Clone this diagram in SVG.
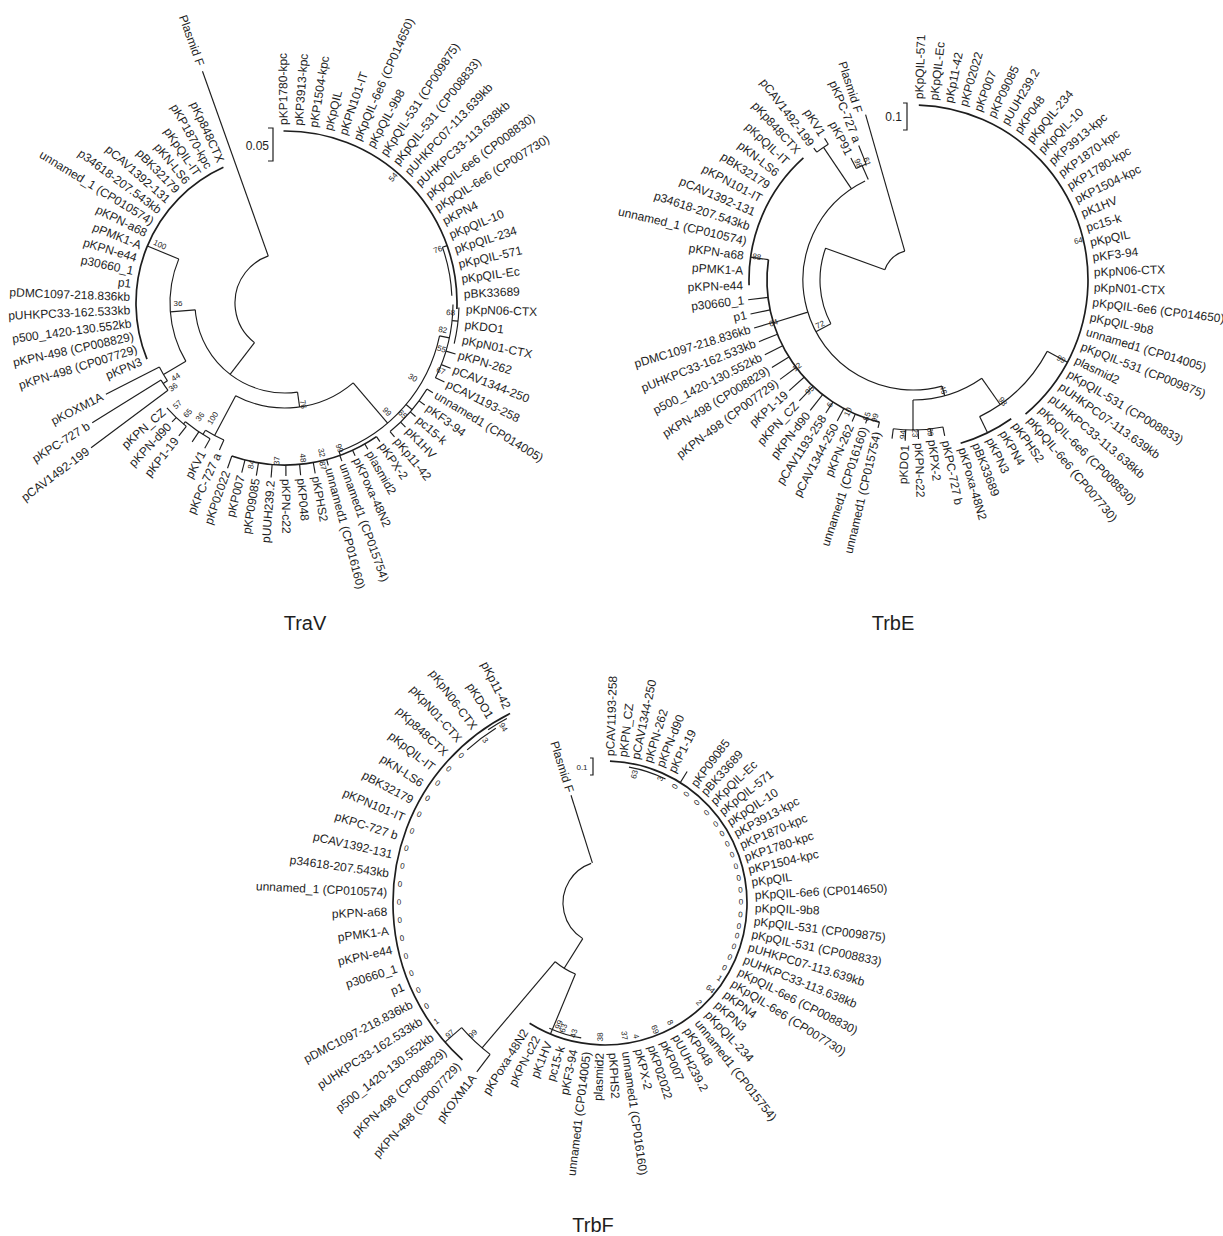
<svg xmlns="http://www.w3.org/2000/svg" width="1223" height="1236" viewBox="0 0 1223 1236">
<style>
text{font-family:"Liberation Sans",Arial,sans-serif;fill:#1e1e1e}
.l{font-size:12px;dominant-baseline:central}
.f{text-anchor:end}
.b{font-size:8px;text-anchor:middle;dominant-baseline:central}
.t{font-size:20px;text-anchor:middle}
.c line,.c circle,.c path{stroke:#1e1e1e;stroke-width:1.15;fill:none}
.c .k{stroke-width:1.7}
</style>
<rect width="1223" height="1236" fill="#fff"/>

<!-- ================= TraV ================= -->
<g id="traV" transform="translate(285,303)">
<g id="traV-edges" class="c">
<circle r="50" stroke-dasharray="107.16 3000" transform="rotate(127.6)"/>
<circle r="90" stroke-dasharray="147.03 3000" transform="rotate(82)"/>
<circle r="115" stroke-dasharray="106.38 3000" transform="rotate(149.5)"/>
<circle class="k" r="149" stroke-dasharray="227.96 3000" transform="rotate(157.87)"/>
<circle r="141" stroke-dasharray="16 3000" transform="rotate(146.5)"/>
<circle r="146" stroke-dasharray="12.41 3000" transform="rotate(143.26)"/>
<circle r="105" stroke-dasharray="125.53 3000" transform="rotate(49.5)"/>
<circle r="150" stroke-dasharray="20.84 3000" transform="rotate(114.04)"/>
<circle r="155" stroke-dasharray="30 3000" transform="rotate(118.91)"/>
<circle r="158" stroke-dasharray="26.86 3000" transform="rotate(128.65)"/>
<circle r="158" stroke-dasharray="159.94 3000" transform="rotate(12)"/>
<circle r="168" stroke-dasharray="76.2 3000" transform="rotate(0.5)"/>
<circle r="174" stroke-dasharray="36.4 3000" transform="rotate(1.5)"/>
<circle class="k" r="172" stroke-dasharray="277.68 3000" transform="rotate(-90.5)"/>
<circle r="167" stroke-dasharray="49.6 3000" transform="rotate(-19.5)"/>
<circle r="166" stroke-dasharray="56.44 3000" transform="rotate(31.25)"/>
<circle class="k" r="162" stroke-dasharray="151.46 3000" transform="rotate(55.6)"/>
<line x1="50" x2="246" transform="rotate(250.4)"/>
<line x1="50" x2="90" transform="rotate(127.6)"/>
<line x1="90" x2="115" transform="rotate(175.6)"/>
<line x1="115" x2="149" transform="rotate(202.5)"/>
<line x1="115" x2="141" transform="rotate(149.5)"/>
<line x1="141" x2="201" transform="rotate(153)"/>
<line x1="141" x2="146" transform="rotate(146.5)"/>
<line x1="146" x2="227" transform="rotate(148.13)"/>
<line x1="146" x2="242" transform="rotate(143.26)"/>
<line x1="90" x2="105" transform="rotate(82)"/>
<line x1="105" x2="150" transform="rotate(118)"/>
<line x1="150" x2="161" transform="rotate(114.04)"/>
<line x1="150" x2="155" transform="rotate(122)"/>
<line x1="155" x2="166" transform="rotate(118.91)"/>
<line x1="155" x2="167" transform="rotate(123.78)"/>
<line x1="155" x2="158" transform="rotate(130)"/>
<line x1="158" x2="170" transform="rotate(128.65)"/>
<line x1="158" x2="164" transform="rotate(133.52)"/>
<line x1="105" x2="158" transform="rotate(49.5)"/>
<line x1="158" x2="168" transform="rotate(12)"/>
<line x1="168" x2="174" transform="rotate(6)"/>
<line x1="167" x2="172" transform="rotate(-19.5)"/>
<line x1="158" x2="166" transform="rotate(40)"/>
<line x1="158" x2="162" transform="rotate(70)"/>
<line x1="168" x2="178" transform="rotate(16.64)"/>
<line x1="168" x2="178" transform="rotate(21.51)"/>
<line x1="168" x2="178" transform="rotate(26.38)"/>
<line x1="166" x2="173" transform="rotate(31.25)"/>
<line x1="166" x2="173" transform="rotate(36.12)"/>
<line x1="166" x2="173" transform="rotate(40.99)"/>
<line x1="166" x2="173" transform="rotate(45.86)"/>
<line x1="166" x2="173" transform="rotate(50.73)"/>
<line x1="162" x2="168" transform="rotate(55.6)"/>
<line x1="162" x2="168" transform="rotate(60.47)"/>
<line x1="162" x2="168" transform="rotate(65.34)"/>
<line x1="162" x2="168" transform="rotate(70.21)"/>
<line x1="162" x2="168" transform="rotate(75.08)"/>
<line x1="162" x2="173" transform="rotate(79.95)"/>
<line x1="162" x2="173" transform="rotate(84.82)"/>
<line x1="162" x2="173" transform="rotate(89.69)"/>
<line x1="162" x2="175" transform="rotate(94.56)"/>
<line x1="162" x2="175" transform="rotate(99.43)"/>
<line x1="162" x2="175" transform="rotate(104.3)"/>
<line x1="162" x2="175" transform="rotate(109.17)"/>
</g>
<g id="traV-support">
<text class="b" x="166" transform="rotate(-49.3)">54</text>
<text class="b" x="162" transform="rotate(-19.2)">76</text>
<text class="b" x="166" transform="rotate(3.4)">68</text>
<text class="b" x="160" transform="rotate(9.7)">82</text>
<text class="b" x="163" transform="rotate(16.4)">55</text>
<text class="b" x="170" transform="rotate(23.6)">67</text>
<text class="b" x="148" transform="rotate(30.4)">30</text>
<text class="b" x="162" transform="rotate(43.5)">65</text>
<text class="b" x="149" transform="rotate(46.9)">99</text>
<text class="b" x="155" transform="rotate(69.5)">99</text>
<text class="b" x="154" transform="rotate(76.3)">32</text>
<text class="b" x="167" transform="rotate(77)">87</text>
<text class="b" x="156" transform="rotate(83.5)">48</text>
<text class="b" x="-158" transform="rotate(-87.1)">37</text>
<text class="b" x="-165" transform="rotate(-78.3)">84</text>
<text class="b" x="103" transform="rotate(80)">76</text>
<text class="b" x="-136" transform="rotate(-58)">100</text>
<text class="b" x="-142" transform="rotate(-53.3)">36</text>
<text class="b" x="-147" transform="rotate(-48.6)">65</text>
<text class="b" x="-148" transform="rotate(-43.4)">57</text>
<text class="b" x="-132" transform="rotate(-34.2)">44</text>
<text class="b" x="-140" transform="rotate(-37)">36</text>
<text class="b" x="-107" transform="rotate(0)">36</text>
<text class="b" x="-138" transform="rotate(24.9)">100</text>
</g>
<g id="traV-n01"><text class="l" x="178" transform="rotate(-90.5)">pKP1780-kpc</text></g>
<g id="traV-n02"><text class="l" x="178" transform="rotate(-85.63)">pKP3913-kpc</text></g>
<g id="traV-n03"><text class="l" x="178" transform="rotate(-80.76)">pKP1504-kpc</text></g>
<g id="traV-n04"><text class="l" x="178" transform="rotate(-75.89)">pKpQIL</text></g>
<g id="traV-n05"><text class="l" x="178" transform="rotate(-71.02)">pKPN101-IT</text></g>
<g id="traV-n06"><text class="l" x="178" transform="rotate(-66.15)">pKpQIL-6e6 (CP014650)</text></g>
<g id="traV-n07"><text class="l" x="178" transform="rotate(-61.28)">pKpQIL-9b8</text></g>
<g id="traV-n08"><text class="l" x="178" transform="rotate(-56.41)">pKpQIL-531 (CP009875)</text></g>
<g id="traV-n09"><text class="l" x="178" transform="rotate(-51.54)">pKpQIL-531 (CP008833)</text></g>
<g id="traV-n10"><text class="l" x="178" transform="rotate(-46.67)">pUHKPC07-113.639kb</text></g>
<g id="traV-n11"><text class="l" x="178" transform="rotate(-41.8)">pUHKPC33-113.638kb</text></g>
<g id="traV-n12"><text class="l" x="178" transform="rotate(-36.93)">pKpQIL-6e6 (CP008830)</text></g>
<g id="traV-n13"><text class="l" x="178" transform="rotate(-32.06)">pKpQIL-6e6 (CP007730)</text></g>
<g id="traV-n14"><text class="l" x="178" transform="rotate(-27.19)">pKPN4</text></g>
<g id="traV-n15"><text class="l" x="178" transform="rotate(-22.32)">pKpQIL-10</text></g>
<g id="traV-n16"><text class="l" x="178" transform="rotate(-17.45)">pKpQIL-234</text></g>
<g id="traV-n17"><text class="l" x="178" transform="rotate(-12.58)">pKpQIL-571</text></g>
<g id="traV-n18"><text class="l" x="178" transform="rotate(-7.71)">pKpQIL-Ec</text></g>
<g id="traV-n19"><text class="l" x="179" transform="rotate(-2.84)">pBK33689</text></g>
<g id="traV-n20"><text class="l" x="181" transform="rotate(2.03)">pKpN06-CTX</text></g>
<g id="traV-n21"><text class="l" x="181" transform="rotate(6.9)">pKDO1</text></g>
<g id="traV-n22"><text class="l" x="181" transform="rotate(11.77)">pKpN01-CTX</text></g>
<g id="traV-n23"><text class="l" x="181" transform="rotate(16.64)">pKPN-262</text></g>
<g id="traV-n24"><text class="l" x="181" transform="rotate(21.51)">pCAV1344-250</text></g>
<g id="traV-n25"><text class="l" x="181" transform="rotate(26.38)">pCAV1193-258</text></g>
<g id="traV-n26"><text class="l" x="176" transform="rotate(31.25)">unnamed1 (CP014005)</text></g>
<g id="traV-n27"><text class="l" x="176" transform="rotate(36.12)">pKF3-94</text></g>
<g id="traV-n28"><text class="l" x="176" transform="rotate(40.99)">pc15-k</text></g>
<g id="traV-n29"><text class="l" x="176" transform="rotate(45.86)">pK1HV</text></g>
<g id="traV-n30"><text class="l" x="176" transform="rotate(50.73)">pKp11-42</text></g>
<g id="traV-n31"><text class="l" x="171" transform="rotate(55.6)">pKPX-2</text></g>
<g id="traV-n32"><text class="l" x="171" transform="rotate(60.47)">plasmid2</text></g>
<g id="traV-n33"><text class="l" x="171" transform="rotate(65.34)">pKPoxa-48N2</text></g>
<g id="traV-n34"><text class="l" x="171" transform="rotate(70.21)">unnamed1 (CP015754)</text></g>
<g id="traV-n35"><text class="l" x="171" transform="rotate(75.08)">unnamed1 (CP016160)</text></g>
<g id="traV-n36"><text class="l" x="176" transform="rotate(79.95)">pKPHS2</text></g>
<g id="traV-n37"><text class="l" x="176" transform="rotate(84.82)">pKP048</text></g>
<g id="traV-n38"><text class="l" x="176" transform="rotate(89.69)">pKPN-c22</text></g>
<g id="traV-n39"><text class="l f" x="-178" transform="rotate(-85.44)">pUUH239.2</text></g>
<g id="traV-n40"><text class="l f" x="-178" transform="rotate(-80.57)">pKP09085</text></g>
<g id="traV-n41"><text class="l f" x="-178" transform="rotate(-75.7)">pKP007</text></g>
<g id="traV-n42"><text class="l f" x="-178" transform="rotate(-70.83)">pKP02022</text></g>
<g id="traV-n43"><text class="l f" x="-165" transform="rotate(-65.96)">pKPC-727 a</text></g>
<g id="traV-n44"><text class="l f" x="-170" transform="rotate(-61.09)">pKV1</text></g>
<g id="traV-n46"><text class="l f" x="-174" transform="rotate(-51.35)">pKP1-19</text></g>
<g id="traV-n47"><text class="l f" x="-168" transform="rotate(-46.48)">pKPN-d90</text></g>
<g id="traV-n48"><text class="l f" x="-162" transform="rotate(-41.61)">pKPN_CZ</text></g>
<g id="traV-n49"><text class="l f" x="-246" transform="rotate(-36.74)">pCAV1492-199</text></g>
<g id="traV-n50"><text class="l f" x="-231" transform="rotate(-31.87)">pKPC-727 b</text></g>
<g id="traV-n51"><text class="l f" x="-205" transform="rotate(-27)">pKOXM1A</text></g>
<g id="traV-n52"><text class="l f" x="-155" transform="rotate(-22.13)">pKPN3</text></g>
<g id="traV-n53"><text class="l f" x="-155" transform="rotate(-17.26)">pKPN-498 (CP007729)</text></g>
<g id="traV-n54"><text class="l f" x="-155" transform="rotate(-12.39)">pKPN-498 (CP008829)</text></g>
<g id="traV-n55"><text class="l f" x="-155" transform="rotate(-7.52)">p500_1420-130.552kb</text></g>
<g id="traV-n56"><text class="l f" x="-155" transform="rotate(-2.65)">pUHKPC33-162.533kb</text></g>
<g id="traV-n57"><text class="l f" x="-155" transform="rotate(2.22)">pDMC1097-218.836kb</text></g>
<g id="traV-n58"><text class="l f" x="-155" transform="rotate(7.09)">p1</text></g>
<g id="traV-n59"><text class="l f" x="-155" transform="rotate(11.96)">p30660_1</text></g>
<g id="traV-n60"><text class="l f" x="-155" transform="rotate(16.83)">pKPN-e44</text></g>
<g id="traV-n61"><text class="l f" x="-155" transform="rotate(21.7)">pPMK1-A</text></g>
<g id="traV-n62"><text class="l f" x="-155" transform="rotate(26.57)">pKPN-a68</text></g>
<g id="traV-n63"><text class="l f" x="-155" transform="rotate(31.44)">unnamed_1 (CP010574)</text></g>
<g id="traV-n64"><text class="l f" x="-155" transform="rotate(36.31)">p34618-207.543kb</text></g>
<g id="traV-n65"><text class="l f" x="-155" transform="rotate(41.18)">pCAV1392-131</text></g>
<g id="traV-n66"><text class="l f" x="-155" transform="rotate(46.05)">pBK32179</text></g>
<g id="traV-n67"><text class="l f" x="-155" transform="rotate(50.92)">pKN-LS6</text></g>
<g id="traV-n68"><text class="l f" x="-155" transform="rotate(55.79)">pKpQIL-IT</text></g>
<g id="traV-n69"><text class="l f" x="-155" transform="rotate(60.66)">pKP1870-kpc</text></g>
<g id="traV-n70"><text class="l f" x="-155" transform="rotate(65.53)">pKp848CTX</text></g>
<g id="traV-n71"><text class="l f" x="-252" transform="rotate(70.4)">Plasmid F</text></g>
</g>
<g id="traV-scale">
<path d="M268,128H273V161H268" stroke="#1e1e1e" stroke-width="1.2" fill="none"/>
<text class="l f" x="269" y="146">0.05</text>
</g>
<text id="title-traV" class="t" x="305" y="630">TraV</text>

<!-- ================= TrbE ================= -->
<g id="trbE" transform="translate(913,280)">
<g id="trbE-edges" class="c">
<circle r="30" stroke-dasharray="28.27 3000" transform="rotate(200)"/>
<circle r="93" stroke-dasharray="77.91 3000" transform="rotate(152)"/>
<circle r="110" stroke-dasharray="325.03 3000" transform="rotate(74.7)"/>
<circle r="120" stroke-dasharray="73.3 3000" transform="rotate(55)"/>
<circle r="150" stroke-dasharray="49.85 3000" transform="rotate(78.5)"/>
<circle r="152" stroke-dasharray="95.5 3000" transform="rotate(28)"/>
<circle class="k" r="170" stroke-dasharray="56.49 3000" transform="rotate(54.7)"/>
<circle class="k" r="175" stroke-dasharray="421.6 3000" transform="rotate(-88.1)"/>
<circle class="k" r="146" stroke-dasharray="215.82 3000" transform="rotate(103.3)"/>
<circle class="k" r="164" stroke-dasharray="142.83 3000" transform="rotate(178.15)"/>
<circle r="160" stroke-dasharray="13.96 3000" transform="rotate(233.04)"/>
<circle r="125" stroke-dasharray="10.91 3000" transform="rotate(243.02)"/>
<line x1="30" x2="172" transform="rotate(254)"/>
<line x1="30" x2="93" transform="rotate(200)"/>
<line x1="93" x2="110" transform="rotate(152)"/>
<line x1="110" x2="120" transform="rotate(74.7)"/>
<line x1="120" x2="150" transform="rotate(90)"/>
<line x1="120" x2="152" transform="rotate(55)"/>
<line x1="152" x2="170" transform="rotate(64)"/>
<line x1="152" x2="175" transform="rotate(28)"/>
<line x1="150" x2="159" transform="rotate(78.5)"/>
<line x1="150" x2="157" transform="rotate(83.26)"/>
<line x1="150" x2="159" transform="rotate(88.02)"/>
<line x1="150" x2="161" transform="rotate(92.78)"/>
<line x1="150" x2="160" transform="rotate(97.54)"/>
<line x1="110" x2="146" transform="rotate(163)"/>
<line x1="146" x2="164" transform="rotate(188)"/>
<line x1="146" x2="152" transform="rotate(103.3)"/>
<line x1="146" x2="151" transform="rotate(108.29)"/>
<line x1="146" x2="154" transform="rotate(113.28)"/>
<line x1="146" x2="160" transform="rotate(118.27)"/>
<line x1="146" x2="159" transform="rotate(123.26)"/>
<line x1="146" x2="166" transform="rotate(128.25)"/>
<line x1="146" x2="166" transform="rotate(133.24)"/>
<line x1="146" x2="166" transform="rotate(138.23)"/>
<line x1="146" x2="166" transform="rotate(143.22)"/>
<line x1="146" x2="166" transform="rotate(148.21)"/>
<line x1="146" x2="166" transform="rotate(153.2)"/>
<line x1="146" x2="166" transform="rotate(158.19)"/>
<line x1="146" x2="166" transform="rotate(163.18)"/>
<line x1="146" x2="166" transform="rotate(168.17)"/>
<line x1="146" x2="166" transform="rotate(173.16)"/>
<line x1="110" x2="160" transform="rotate(236)"/>
<line x1="160" x2="165" transform="rotate(233.04)"/>
<line x1="160" x2="167" transform="rotate(238.03)"/>
<line x1="110" x2="125" transform="rotate(246)"/>
<line x1="125" x2="137" transform="rotate(243.02)"/>
<line x1="125" x2="145" transform="rotate(248.01)"/>
</g>
<g id="trbE-support">
<text class="b" x="-127" transform="rotate(68.7)">61</text>
<text class="b" x="-129" transform="rotate(64.8)">98</text>
<text class="b" x="-158" transform="rotate(8.4)">88</text>
<text class="b" x="170" transform="rotate(-13.3)">64</text>
<text class="b" x="-103" transform="rotate(-25.8)">72</text>
<text class="b" x="-146" transform="rotate(-17.1)">64</text>
<text class="b" x="-145" transform="rotate(-36.9)">12</text>
<text class="b" x="-151" transform="rotate(-46.9)">95</text>
<text class="b" x="-150" transform="rotate(-56.4)">6</text>
<text class="b" x="-147" transform="rotate(-63.8)">10</text>
<text class="b" x="-144" transform="rotate(-71.4)">55</text>
<text class="b" x="-143" transform="rotate(-74.6)">99</text>
<text class="b" x="-155" transform="rotate(-86.3)">94</text>
<text class="b" x="153" transform="rotate(89.3)">23</text>
<text class="b" x="153" transform="rotate(83.6)">69</text>
<text class="b" x="114" transform="rotate(74.7)">46</text>
<text class="b" x="151" transform="rotate(53.6)">98</text>
<text class="b" x="168" transform="rotate(28.2)">99</text>
</g>
<g id="trbE-n01"><text class="l" x="181" transform="rotate(-88.1)">pKpQIL-571</text></g>
<g id="trbE-n02"><text class="l" x="181" transform="rotate(-83.34)">pKpQIL-Ec</text></g>
<g id="trbE-n03"><text class="l" x="181" transform="rotate(-78.58)">pKp11-42</text></g>
<g id="trbE-n04"><text class="l" x="181" transform="rotate(-73.82)">pKP02022</text></g>
<g id="trbE-n05"><text class="l" x="181" transform="rotate(-69.06)">pKP007</text></g>
<g id="trbE-n06"><text class="l" x="181" transform="rotate(-64.3)">pKP09085</text></g>
<g id="trbE-n07"><text class="l" x="181" transform="rotate(-59.54)">pUUH239.2</text></g>
<g id="trbE-n08"><text class="l" x="181" transform="rotate(-54.78)">pKP048</text></g>
<g id="trbE-n09"><text class="l" x="181" transform="rotate(-50.02)">pKpQIL-234</text></g>
<g id="trbE-n10"><text class="l" x="181" transform="rotate(-45.26)">pKpQIL-10</text></g>
<g id="trbE-n11"><text class="l" x="181" transform="rotate(-40.5)">pKP3913-kpc</text></g>
<g id="trbE-n12"><text class="l" x="181" transform="rotate(-35.74)">pKP1870-kpc</text></g>
<g id="trbE-n13"><text class="l" x="181" transform="rotate(-30.98)">pKP1780-kpc</text></g>
<g id="trbE-n14"><text class="l" x="181" transform="rotate(-26.22)">pKP1504-kpc</text></g>
<g id="trbE-n15"><text class="l" x="181" transform="rotate(-21.46)">pK1HV</text></g>
<g id="trbE-n16"><text class="l" x="181" transform="rotate(-16.7)">pc15-k</text></g>
<g id="trbE-n17"><text class="l" x="181" transform="rotate(-11.94)">pKpQIL</text></g>
<g id="trbE-n18"><text class="l" x="181" transform="rotate(-7.18)">pKF3-94</text></g>
<g id="trbE-n19"><text class="l" x="181" transform="rotate(-2.42)">pKpN06-CTX</text></g>
<g id="trbE-n20"><text class="l" x="181" transform="rotate(2.34)">pKpN01-CTX</text></g>
<g id="trbE-n21"><text class="l" x="181" transform="rotate(7.1)">pKpQIL-6e6 (CP014650)</text></g>
<g id="trbE-n22"><text class="l" x="181" transform="rotate(11.86)">pKpQIL-9b8</text></g>
<g id="trbE-n23"><text class="l" x="181" transform="rotate(16.62)">unnamed1 (CP014005)</text></g>
<g id="trbE-n24"><text class="l" x="181" transform="rotate(21.38)">pKpQIL-531 (CP009875)</text></g>
<g id="trbE-n25"><text class="l" x="181" transform="rotate(26.14)">plasmid2</text></g>
<g id="trbE-n26"><text class="l" x="181" transform="rotate(30.9)">pKpQIL-531 (CP008833)</text></g>
<g id="trbE-n27"><text class="l" x="181" transform="rotate(35.66)">pUHKPC07-113.639kb</text></g>
<g id="trbE-n28"><text class="l" x="181" transform="rotate(40.42)">pUHKPC33-113.638kb</text></g>
<g id="trbE-n29"><text class="l" x="181" transform="rotate(45.18)">pKpQIL-6e6 (CP008830)</text></g>
<g id="trbE-n30"><text class="l" x="181" transform="rotate(49.94)">pKpQIL-6e6 (CP007730)</text></g>
<g id="trbE-n31"><text class="l" x="176" transform="rotate(54.7)">pKPHS2</text></g>
<g id="trbE-n32"><text class="l" x="176" transform="rotate(59.46)">pKPN4</text></g>
<g id="trbE-n33"><text class="l" x="176" transform="rotate(64.22)">pKPN3</text></g>
<g id="trbE-n34"><text class="l" x="175" transform="rotate(68.98)">pBK33689</text></g>
<g id="trbE-n35"><text class="l" x="175" transform="rotate(73.74)">pKPoxa-48N2</text></g>
<g id="trbE-n36"><text class="l" x="164" transform="rotate(78.5)">pKPC-727 b</text></g>
<g id="trbE-n37"><text class="l" x="161" transform="rotate(83.26)">pKPX-2</text></g>
<g id="trbE-n38"><text class="l" x="163" transform="rotate(88.02)">pKPN-c22</text></g>
<g id="trbE-n39"><text class="l f" x="-165" transform="rotate(-87.22)">pKDO1</text></g>
<g id="trbE-n41"><text class="l f" x="-156" transform="rotate(-76.7)">unnamed1 (CP015754)</text></g>
<g id="trbE-n42"><text class="l f" x="-155" transform="rotate(-71.71)">unnamed1 (CP016160)</text></g>
<g id="trbE-n43"><text class="l f" x="-158" transform="rotate(-66.72)">pKPN-262</text></g>
<g id="trbE-n44"><text class="l f" x="-164" transform="rotate(-61.73)">pCAV1344-250</text></g>
<g id="trbE-n45"><text class="l f" x="-163" transform="rotate(-56.74)">pCAV1193-258</text></g>
<g id="trbE-n46"><text class="l f" x="-170" transform="rotate(-51.75)">pKPN-d90</text></g>
<g id="trbE-n47"><text class="l f" x="-170" transform="rotate(-46.76)">pKPN_CZ</text></g>
<g id="trbE-n48"><text class="l f" x="-170" transform="rotate(-41.77)">pKP1-19</text></g>
<g id="trbE-n49"><text class="l f" x="-170" transform="rotate(-36.78)">pKPN-498 (CP007729)</text></g>
<g id="trbE-n50"><text class="l f" x="-170" transform="rotate(-31.79)">pKPN-498 (CP008829)</text></g>
<g id="trbE-n51"><text class="l f" x="-170" transform="rotate(-26.8)">p500_1420-130.552kb</text></g>
<g id="trbE-n52"><text class="l f" x="-170" transform="rotate(-21.81)">pUHKPC33-162.533kb</text></g>
<g id="trbE-n53"><text class="l f" x="-170" transform="rotate(-16.82)">pDMC1097-218.836kb</text></g>
<g id="trbE-n54"><text class="l f" x="-170" transform="rotate(-11.83)">p1</text></g>
<g id="trbE-n55"><text class="l f" x="-170" transform="rotate(-6.84)">p30660_1</text></g>
<g id="trbE-n56"><text class="l f" x="-170" transform="rotate(-1.85)">pKPN-e44</text></g>
<g id="trbE-n57"><text class="l f" x="-170" transform="rotate(3.14)">pPMK1-A</text></g>
<g id="trbE-n58"><text class="l f" x="-171" transform="rotate(8.13)">pKPN-a68</text></g>
<g id="trbE-n59"><text class="l f" x="-171" transform="rotate(13.12)">unnamed_1 (CP010574)</text></g>
<g id="trbE-n60"><text class="l f" x="-172" transform="rotate(18.11)">p34618-207.543kb</text></g>
<g id="trbE-n61"><text class="l f" x="-172" transform="rotate(23.1)">pCAV1392-131</text></g>
<g id="trbE-n62"><text class="l f" x="-172" transform="rotate(28.09)">pKPN101-IT</text></g>
<g id="trbE-n63"><text class="l f" x="-172" transform="rotate(33.08)">pBK32179</text></g>
<g id="trbE-n64"><text class="l f" x="-172" transform="rotate(38.07)">pKN-LS6</text></g>
<g id="trbE-n65"><text class="l f" x="-172" transform="rotate(43.06)">pKpQIL-IT</text></g>
<g id="trbE-n66"><text class="l f" x="-172" transform="rotate(48.05)">pKp848CTX</text></g>
<g id="trbE-n67"><text class="l f" x="-169" transform="rotate(53.04)">pCAV1492-199</text></g>
<g id="trbE-n68"><text class="l f" x="-171" transform="rotate(58.03)">pKV1</text></g>
<g id="trbE-n69"><text class="l f" x="-141" transform="rotate(63.02)">pKP91</text></g>
<g id="trbE-n70"><text class="l f" x="-149" transform="rotate(68.01)">pKPC-727 a</text></g>
<g id="trbE-n71"><text class="l f" x="-176" transform="rotate(72)">Plasmid F</text></g>
</g>
<g id="trbE-scale">
<path d="M903,103H907V130H903" stroke="#1e1e1e" stroke-width="1.2" fill="none"/>
<text class="l f" x="902" y="117">0.1</text>
</g>
<text id="title-trbE" class="t" x="893" y="630">TrbE</text>

<!-- ================= TrbF ================= -->
<g id="trbF" transform="translate(605,903)">
<g id="trbF-edges" class="c">
<circle r="42" stroke-dasharray="94.19 3000" transform="rotate(122)"/>
<circle r="77" stroke-dasharray="23.79 3000" transform="rotate(112.6)"/>
<circle class="k" r="142" stroke-dasharray="520.46 3000" transform="rotate(-88)"/>
<circle r="138" stroke-dasharray="38.54 3000" transform="rotate(-80)"/>
<circle r="137" stroke-dasharray="33.48 3000" transform="rotate(100)"/>
<circle r="190" stroke-dasharray="39.13 3000" transform="rotate(127.2)"/>
<circle class="k" r="212" stroke-dasharray="411.09 3000" transform="rotate(132.25)"/>
<circle r="206" stroke-dasharray="35.95 3000" transform="rotate(228)"/>
<circle r="209" stroke-dasharray="21.89 3000" transform="rotate(236)"/>
<line x1="42" x2="113" transform="rotate(252.5)"/>
<line x1="42" x2="77" transform="rotate(122)"/>
<line x1="77" x2="142" transform="rotate(112.6)"/>
<line x1="77" x2="190" transform="rotate(130.3)"/>
<line x1="190" x2="212" transform="rotate(127.2)"/>
<line x1="190" x2="212" transform="rotate(139)"/>
<line x1="142" x2="155" transform="rotate(-58)"/>
</g>
<g id="trbF-support">
<text class="b" x="132" transform="rotate(-77.1)">63</text>
<text class="b" x="136" transform="rotate(-66)">3</text>
<text class="b" x="136" transform="rotate(-59)">0</text>
<text class="b" x="136" transform="rotate(-53.2)">0</text>
<text class="b" x="136" transform="rotate(-47.5)">0</text>
<text class="b" x="136" transform="rotate(-41.5)">0</text>
<text class="b" x="136" transform="rotate(-35.4)">0</text>
<text class="b" x="136" transform="rotate(-30.6)">0</text>
<text class="b" x="136" transform="rotate(-25.7)">0</text>
<text class="b" x="136" transform="rotate(-20.7)">0</text>
<text class="b" x="136" transform="rotate(-15.6)">0</text>
<text class="b" x="136" transform="rotate(-10.5)">0</text>
<text class="b" x="136" transform="rotate(-5.5)">0</text>
<text class="b" x="136" transform="rotate(-0.4)">0</text>
<text class="b" x="136" transform="rotate(4.9)">0</text>
<text class="b" x="136" transform="rotate(9.9)">0</text>
<text class="b" x="136" transform="rotate(14)">0</text>
<text class="b" x="136" transform="rotate(18.7)">0</text>
<text class="b" x="136" transform="rotate(23.5)">0</text>
<text class="b" x="136" transform="rotate(28.5)">0</text>
<text class="b" x="137" transform="rotate(33.4)">1</text>
<text class="b" x="136" transform="rotate(39.3)">64</text>
<text class="b" x="137" transform="rotate(46.7)">2</text>
<text class="b" x="136" transform="rotate(61.5)">8</text>
<text class="b" x="136" transform="rotate(68.5)">69</text>
<text class="b" x="137" transform="rotate(77)">4</text>
<text class="b" x="134" transform="rotate(81.7)">37</text>
<text class="b" x="-134" transform="rotate(-88)">38</text>
<text class="b" x="-134" transform="rotate(-76.6)">43</text>
<text class="b" x="-132" transform="rotate(-71.7)">63</text>
<text class="b" x="-130" transform="rotate(-69.3)">99</text>
<text class="b" x="-186" transform="rotate(-44.8)">99</text>
<text class="b" x="-203" transform="rotate(-40.2)">97</text>
<text class="b" x="-206" transform="rotate(-35.1)">1</text>
<text class="b" x="-206" transform="rotate(-30.1)">0</text>
<text class="b" x="-206" transform="rotate(-25.05)">0</text>
<text class="b" x="-206" transform="rotate(-20)">0</text>
<text class="b" x="-206" transform="rotate(-14.95)">0</text>
<text class="b" x="-206" transform="rotate(-9.9)">0</text>
<text class="b" x="-206" transform="rotate(-4.85)">0</text>
<text class="b" x="-206" transform="rotate(0.2)">0</text>
<text class="b" x="-206" transform="rotate(5.25)">0</text>
<text class="b" x="-206" transform="rotate(10.3)">0</text>
<text class="b" x="-206" transform="rotate(15.35)">0</text>
<text class="b" x="-206" transform="rotate(20.4)">0</text>
<text class="b" x="-206" transform="rotate(25.45)">0</text>
<text class="b" x="-206" transform="rotate(30.5)">0</text>
<text class="b" x="-206" transform="rotate(35.55)">0</text>
<text class="b" x="-206" transform="rotate(40.6)">0</text>
<text class="b" x="-206" transform="rotate(45.65)">0</text>
<text class="b" x="-202" transform="rotate(53.6)">3</text>
<text class="b" x="-203" transform="rotate(59.9)">94</text>
</g>
<g id="trbF-n01"><text class="l" x="147" transform="rotate(-88)">pCAV1193-258</text></g>
<g id="trbF-n02"><text class="l" x="147" transform="rotate(-83)">pKPN_CZ</text></g>
<g id="trbF-n03"><text class="l" x="147" transform="rotate(-78)">pCAV1344-250</text></g>
<g id="trbF-n04"><text class="l" x="147" transform="rotate(-73)">pKPN-262</text></g>
<g id="trbF-n05"><text class="l" x="147" transform="rotate(-68)">pKPN-d90</text></g>
<g id="trbF-n06"><text class="l" x="147" transform="rotate(-63)">pKP1-19</text></g>
<g id="trbF-n08"><text class="l" x="147" transform="rotate(-53)">pKP09085</text></g>
<g id="trbF-n09"><text class="l" x="147" transform="rotate(-48)">pBK33689</text></g>
<g id="trbF-n10"><text class="l" x="147" transform="rotate(-43)">pKpQIL-Ec</text></g>
<g id="trbF-n11"><text class="l" x="147" transform="rotate(-38)">pKpQIL-571</text></g>
<g id="trbF-n12"><text class="l" x="147" transform="rotate(-33)">pKpQIL-10</text></g>
<g id="trbF-n13"><text class="l" x="147" transform="rotate(-28)">pKP3913-kpc</text></g>
<g id="trbF-n14"><text class="l" x="147" transform="rotate(-23)">pKP1870-kpc</text></g>
<g id="trbF-n15"><text class="l" x="147" transform="rotate(-18)">pKP1780-kpc</text></g>
<g id="trbF-n16"><text class="l" x="147" transform="rotate(-13)">pKP1504-kpc</text></g>
<g id="trbF-n17"><text class="l" x="148" transform="rotate(-8)">pKpQIL</text></g>
<g id="trbF-n18"><text class="l" x="150" transform="rotate(-3)">pKpQIL-6e6 (CP014650)</text></g>
<g id="trbF-n19"><text class="l" x="150" transform="rotate(2)">pKpQIL-9b8</text></g>
<g id="trbF-n20"><text class="l" x="150" transform="rotate(7)">pKpQIL-531 (CP009875)</text></g>
<g id="trbF-n21"><text class="l" x="150" transform="rotate(12)">pKpQIL-531 (CP008833)</text></g>
<g id="trbF-n22"><text class="l" x="150" transform="rotate(17)">pUHKPC07-113.639kb</text></g>
<g id="trbF-n23"><text class="l" x="150" transform="rotate(22)">pUHKPC33-113.638kb</text></g>
<g id="trbF-n24"><text class="l" x="150" transform="rotate(27)">pKpQIL-6e6 (CP008830)</text></g>
<g id="trbF-n25"><text class="l" x="150" transform="rotate(32)">pKpQIL-6e6 (CP007730)</text></g>
<g id="trbF-n26"><text class="l" x="150" transform="rotate(37)">pKPN4</text></g>
<g id="trbF-n27"><text class="l" x="150" transform="rotate(42)">pKPN3</text></g>
<g id="trbF-n28"><text class="l" x="150" transform="rotate(47)">pKpQIL-234</text></g>
<g id="trbF-n29"><text class="l" x="150" transform="rotate(52)">unnamed1 (CP015754)</text></g>
<g id="trbF-n30"><text class="l" x="150" transform="rotate(57)">pKP048</text></g>
<g id="trbF-n31"><text class="l" x="150" transform="rotate(62)">pUUH239.2</text></g>
<g id="trbF-n32"><text class="l" x="150" transform="rotate(67)">pKP007</text></g>
<g id="trbF-n33"><text class="l" x="150" transform="rotate(72)">pKP02022</text></g>
<g id="trbF-n34"><text class="l" x="150" transform="rotate(77)">pKPX-2</text></g>
<g id="trbF-n35"><text class="l" x="150" transform="rotate(82)">unnamed1 (CP016160)</text></g>
<g id="trbF-n36"><text class="l" x="150" transform="rotate(87)">pKPHS2</text></g>
<g id="trbF-n37"><text class="l f" x="-150" transform="rotate(-88)">plasmid2</text></g>
<g id="trbF-n38"><text class="l f" x="-150" transform="rotate(-83)">unnamed1 (CP014005)</text></g>
<g id="trbF-n39"><text class="l f" x="-150" transform="rotate(-78)">pKF3-94</text></g>
<g id="trbF-n40"><text class="l f" x="-150" transform="rotate(-73)">pc15-k</text></g>
<g id="trbF-n41"><text class="l f" x="-150" transform="rotate(-68)">pK1HV</text></g>
<g id="trbF-n42"><text class="l f" x="-150" transform="rotate(-63)">pKPN-c22</text></g>
<g id="trbF-n43"><text class="l f" x="-150" transform="rotate(-58)">pKPoxa-48N2</text></g>
<g id="trbF-n44"><text class="l f" x="-217" transform="rotate(-52.8)">pKOXM1A</text></g>
<g id="trbF-n45"><text class="l f" x="-218" transform="rotate(-47.75)">pKPN-498 (CP007729)</text></g>
<g id="trbF-n46"><text class="l f" x="-218" transform="rotate(-42.7)">pKPN-498 (CP008829)</text></g>
<g id="trbF-n47"><text class="l f" x="-218" transform="rotate(-37.65)">p500_1420-130.552kb</text></g>
<g id="trbF-n48"><text class="l f" x="-218" transform="rotate(-32.6)">pUHKPC33-162.533kb</text></g>
<g id="trbF-n49"><text class="l f" x="-218" transform="rotate(-27.55)">pDMC1097-218.836kb</text></g>
<g id="trbF-n50"><text class="l f" x="-218" transform="rotate(-22.5)">p1</text></g>
<g id="trbF-n51"><text class="l f" x="-218" transform="rotate(-17.45)">p30660_1</text></g>
<g id="trbF-n52"><text class="l f" x="-218" transform="rotate(-12.4)">pKPN-e44</text></g>
<g id="trbF-n53"><text class="l f" x="-218" transform="rotate(-7.35)">pPMK1-A</text></g>
<g id="trbF-n54"><text class="l f" x="-218" transform="rotate(-2.3)">pKPN-a68</text></g>
<g id="trbF-n55"><text class="l f" x="-218" transform="rotate(2.75)">unnamed_1 (CP010574)</text></g>
<g id="trbF-n56"><text class="l f" x="-218" transform="rotate(7.8)">p34618-207.543kb</text></g>
<g id="trbF-n57"><text class="l f" x="-218" transform="rotate(12.85)">pCAV1392-131</text></g>
<g id="trbF-n58"><text class="l f" x="-218" transform="rotate(17.9)">pKPC-727 b</text></g>
<g id="trbF-n59"><text class="l f" x="-218" transform="rotate(22.95)">pKPN101-IT</text></g>
<g id="trbF-n60"><text class="l f" x="-218" transform="rotate(28)">pBK32179</text></g>
<g id="trbF-n61"><text class="l f" x="-218" transform="rotate(33.05)">pKN-LS6</text></g>
<g id="trbF-n62"><text class="l f" x="-218" transform="rotate(38.1)">pKpQIL-IT</text></g>
<g id="trbF-n63"><text class="l f" x="-218" transform="rotate(43.15)">pKp848CTX</text></g>
<g id="trbF-n64"><text class="l f" x="-218" transform="rotate(48.2)">pKpN01-CTX</text></g>
<g id="trbF-n65"><text class="l f" x="-218" transform="rotate(53.25)">pKpN06-CTX</text></g>
<g id="trbF-n66"><text class="l f" x="-218" transform="rotate(58.3)">pKDO1</text></g>
<g id="trbF-n67"><text class="l f" x="-218" transform="rotate(63.35)">pKp11-42</text></g>
<g id="trbF-n68"><text class="l f" x="-116" transform="rotate(72.5)">Plasmid F</text></g>
</g>
<g id="trbF-scale">
<path d="M590,758H593V775H590" stroke="#1e1e1e" stroke-width="1.2" fill="none"/>
<text class="b" x="582" y="767">0.1</text>
</g>
<text id="title-trbF" class="t" x="593" y="1232">TrbF</text>
</svg>
